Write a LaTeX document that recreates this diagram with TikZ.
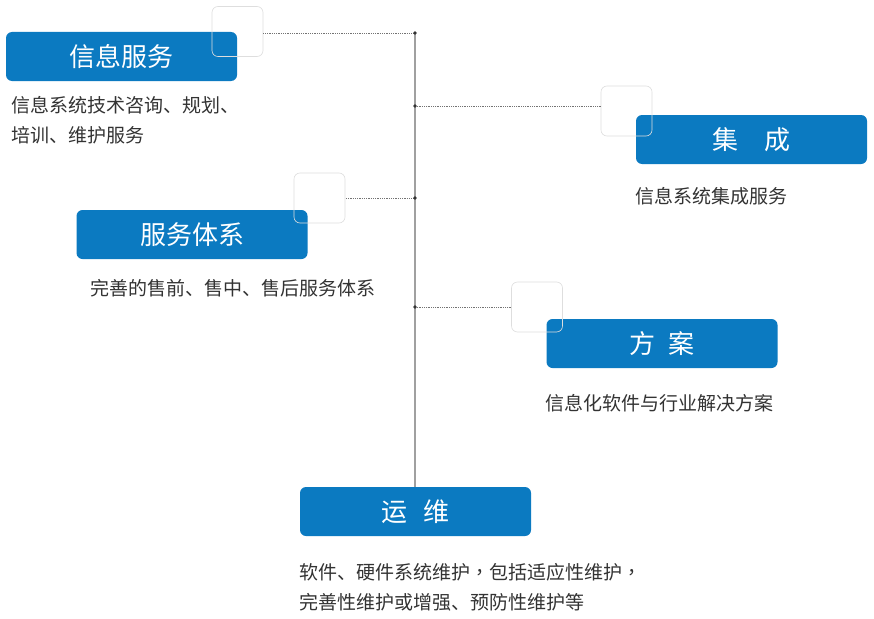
\documentclass[tikz,border=0pt]{standalone}
\usepackage{fontspec}
\setmainfont{Noto Sans CJK SC}
\newfontfamily\tcfont{Noto Sans CJK TC}
\definecolor{boxblue}{HTML}{0B7AC1}
\definecolor{desc}{HTML}{333333}
\definecolor{trunk}{HTML}{A0A0A0}
\tikzset{
  titlebox/.style={fill=boxblue, rounded corners=6pt, minimum width=231pt, minimum height=49pt,
    inner sep=0pt, text=white, font=\fontsize{26}{30}\selectfont},
  cornersq/.style={draw=black!13, line width=0.6pt, rounded corners=6pt, minimum width=51pt,
    minimum height=50pt, inner sep=0pt},
  desctext/.style={text=desc, font=\fontsize{19}{30}\selectfont, inner sep=0pt, align=left, anchor=west},
  dotline/.style={draw=black!55, line width=0.5pt, dash pattern=on 0.6pt off 1.2pt},
  junction/.style={fill=black!80},
}
\begin{document}
\begin{tikzpicture}[x=1pt,y=-1pt]
\useasboundingbox[fill=white] (0,0) rectangle (874,618);
% boxes
\node[titlebox] (b1) at (121.5,56.5) {信息服务};
\node[titlebox] (b2) at (751.5,139.5) {集\hspace{1em}成};
\node[titlebox] (b3) at (192,234.5) {服务体系};
\node[titlebox] (b4) at (662,343.5) {方\hspace{0.5em}案};
\node[titlebox] (b5) at (415.5,511.5) {运\hspace{0.6em}维};
% corner squares
\node[cornersq] (s1) at (237.5,31.5) {};
\node[cornersq] (s2) at (626.5,111) {};
\node[cornersq] (s3) at (319.5,198) {};
\node[cornersq] (s4) at (537,307) {};
% trunk and junctions
\coordinate (j1) at (415,33);
\coordinate (j2) at (415,106);
\coordinate (j3) at (415,198);
\coordinate (j4) at (415,307);
\draw[trunk, line width=1.6pt] (j1) -- (j1 |- b5.north);
\draw[dotline] (j1) -- (j1 -| s1.east);
\draw[dotline] (j2) -- (j2 -| s2.west);
\draw[dotline] (j3) -- (j3 -| s3.east);
\draw[dotline] (j4) -- (j4 -| s4.west);
\foreach \j in {j1,j2,j3,j4} \fill[junction] (\j) circle (1.8pt);
% descriptions
\node[desctext] (d1) at (11,120) {信息系统技术咨询、规划、\\培训、维护服务};
\node[desctext] (d2) at (635,196) {信息系统集成服务};
\node[desctext] (d3) at (90,288) {完善的售前、售中、售后服务体系};
\node[desctext] (d4) at (545,403) {信息化软件与行业解决方案};
\node[desctext] (d5) at (299,587) {软件、硬件系统维护{\tcfont ，}包括适应性维护{\tcfont ，}\\完善性维护或增强、预防性维护等};
\end{tikzpicture}
\end{document}
